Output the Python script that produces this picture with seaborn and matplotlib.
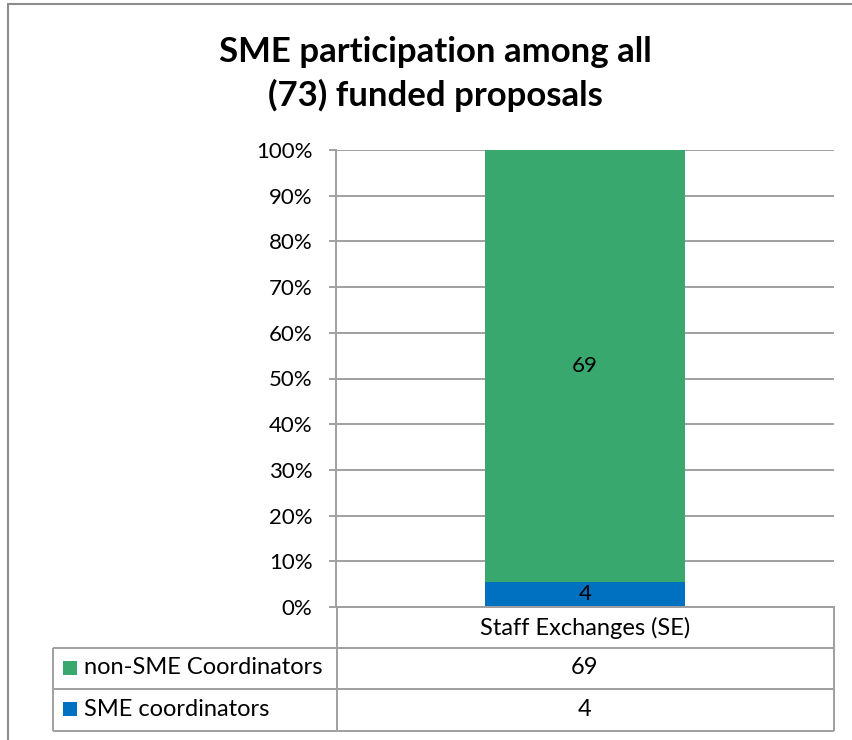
import pandas as pd
import seaborn as sns
import matplotlib.pyplot as plt
from matplotlib.ticker import PercentFormatter
from matplotlib.patches import Rectangle

# data
categories = ["Staff Exchanges (SE)"]
series_names = ["non-SME Coordinators", "SME coordinators"]
non_sme = [69]
sme = [4]
colors = ["#38A86F", "#0070C0"]
title = "SME participation among all\n(73) funded proposals"

total = [a + b for a, b in zip(non_sme, sme)]
df = pd.DataFrame({
    "category": categories,
    "sme_pct": [100 * s / t for s, t in zip(sme, total)],
    "total_pct": [100 * t / t for t in total],
})

sns.set_theme(style="white")
plt.rcParams["font.family"] = ["Lato", "DejaVu Sans"]
plt.rcParams["text.color"] = "black"

W, H = 853, 740
grid = "#A0A0A0"
fs = 16
fig = plt.figure(figsize=(W / 100, H / 100), dpi=100)
ax = fig.add_axes([336 / W, 1 - 607 / H, (834 - 336) / W, (607 - 150) / H])

# stacked 100% bar: full bar in green, SME share on top of it in blue
sns.barplot(data=df, x="category", y="total_pct", color=colors[0], width=0.40,
            saturation=1, errorbar=None, linewidth=0, ax=ax, zorder=3)
sns.barplot(data=df, x="category", y="sme_pct", color=colors[1], width=0.40,
            saturation=1, errorbar=None, linewidth=0, ax=ax, zorder=3)

for i in range(len(categories)):
    p = df["sme_pct"][i]
    ax.text(i, (p + 100) / 2, str(non_sme[i]), ha="center", va="center", fontsize=fs, zorder=4)
    ax.text(i, p / 2, str(sme[i]), ha="center", va="center", fontsize=fs, zorder=4)

ax.set_xlim(-0.5, len(categories) - 0.5)
ax.set_ylim(0, 100)
ax.set_yticks(range(0, 101, 10))
ax.yaxis.set_major_formatter(PercentFormatter(decimals=0))
ax.set_xticks([])
ax.set_xlabel("")
ax.set_ylabel("")
ax.yaxis.grid(True, color=grid, lw=1.4, zorder=0)
ax.set_axisbelow(True)
ax.tick_params(axis="y", left=True, length=5, width=1.4, color=grid, labelsize=fs, pad=12, labelcolor="black")
for s in ["top", "right"]:
    ax.spines[s].set_visible(False)
for s in ["left", "bottom"]:
    ax.spines[s].set_color(grid)
    ax.spines[s].set_linewidth(1.4)

# overlay in pixel coordinates for the frame and the data table
ov = fig.add_axes([0, 0, 1, 1], zorder=5)
ov.set_xlim(0, W)
ov.set_ylim(H, 0)
ov.axis("off")
ov.patch.set_alpha(0)

frame = "#8C8C8C"
ov.plot([8, W], [4, 4], color=frame, lw=1.5)
ov.plot([8, 8], [4, H], color=frame, lw=1.5)

fig.text(435 / W, 1 - 74 / H, title, ha="center", va="center", fontsize=25,
         fontweight="bold", linespacing=1.4)

tl = dict(color=grid, lw=1.4, solid_capstyle="butt")
ov.plot([337, 834], [607, 607], **tl)
for y in [648, 689, 731]:
    ov.plot([53, 834], [y, y], **tl)
ov.plot([337, 337], [607, 731], **tl)
ov.plot([834, 834], [607, 731], **tl)
ov.plot([53, 53], [648, 731], **tl)

ov.text(585, 628, categories[0], ha="center", va="center", fontsize=17)
row_vals = [non_sme, sme]
for r, (name, vals, c) in enumerate(zip(series_names, row_vals, colors)):
    yc = 668 + r * 41
    ov.add_patch(Rectangle((63, yc - 7), 14, 14, color=c, lw=0))
    ov.text(84, yc, name, ha="left", va="center", fontsize=17)
    ov.text(585, yc, str(vals[0]), ha="center", va="center", fontsize=17)

fig.savefig("out.png", dpi=100)
